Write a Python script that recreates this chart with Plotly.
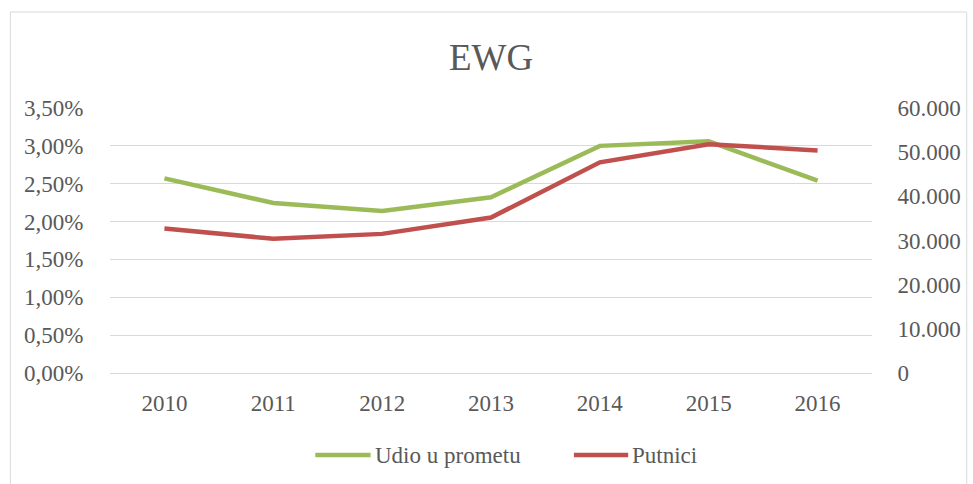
import plotly.graph_objects as go

years = ["2010", "2011", "2012", "2013", "2014", "2015", "2016"]
udio_u_prometu = [0.0257, 0.02245, 0.0214, 0.0232, 0.0300, 0.0306, 0.0254]
putnici = [32700, 30400, 31500, 35200, 47700, 51800, 50400]
series_names = ["Udio u prometu", "Putnici"]
series_colors = ["#9BBB59", "#C0504D"]

GRAY_TEXT = "#595959"
GRID = "#D9D9D9"
FONT = "Liberation Serif, Times New Roman, serif"

W, H = 973, 484
ml, mr, mt, mb = 110, 91, 108, 111
pw, ph = W - ml - mr, H - mt - mb


def px_x(x):
    return (x - ml) / pw


def px_y(y):
    return (H - mb - y) / ph


fig = go.Figure()
fig.add_trace(go.Scatter(
    x=years, y=udio_u_prometu, name=series_names[0], mode="lines",
    line=dict(color=series_colors[0], width=4.5), yaxis="y"
))
fig.add_trace(go.Scatter(
    x=years, y=putnici, name=series_names[1], mode="lines",
    line=dict(color=series_colors[1], width=4.5), yaxis="y2"
))

fig.update_layout(
    width=W, height=H,
    margin=dict(l=ml, r=mr, t=mt, b=mb),
    paper_bgcolor="white", plot_bgcolor="white",
    separators=",.",
    font=dict(family=FONT, size=23, color=GRAY_TEXT),
    title=dict(text="EWG", x=0.5, xref="paper", y=1 - 57 / H, yref="container",
               xanchor="center", yanchor="middle",
               font=dict(family=FONT, size=37, color=GRAY_TEXT)),
    xaxis=dict(type="category", range=[-0.5, 6.5], showgrid=False,
               showline=True, linecolor=GRID, linewidth=1,
               ticks="outside", ticklen=9, tickcolor="rgba(0,0,0,0)",
               tickfont=dict(size=23, color=GRAY_TEXT)),
    yaxis=dict(range=[0, 0.035], dtick=0.005, tickformat=".2%", showgrid=True,
               gridcolor=GRID, gridwidth=1, zeroline=False, showline=False,
               ticks="outside", ticklen=21, tickcolor="rgba(0,0,0,0)",
               tickfont=dict(size=23, color=GRAY_TEXT)),
    yaxis2=dict(range=[0, 60000], dtick=10000, tickformat=",d", overlaying="y",
                side="right", showgrid=False, zeroline=False, showline=False,
                ticks="outside", ticklen=20, tickcolor="rgba(0,0,0,0)",
                tickfont=dict(size=23, color=GRAY_TEXT)),
    showlegend=False,
)

# legend drawn by hand to get Excel-like long swatches
legend_y = 455
swatches = [(318, 374), (580, 635)]
for (x0, x1), name, color in zip(swatches, series_names, series_colors):
    fig.add_shape(type="line", xref="paper", yref="paper",
                  x0=px_x(x0), x1=px_x(x1), y0=px_y(legend_y), y1=px_y(legend_y),
                  line=dict(color=color, width=4.5))
    fig.add_annotation(xref="paper", yref="paper", x=px_x(x1 + 2), y=px_y(legend_y),
                       text=name, showarrow=False, xanchor="left", yanchor="middle",
                       font=dict(family=FONT, size=23, color=GRAY_TEXT))

# chart area border
fig.add_shape(type="rect", xref="paper", yref="paper",
              x0=px_x(9), x1=px_x(W + 5), y0=px_y(H + 5), y1=px_y(12),
              line=dict(color=GRID, width=1), fillcolor="rgba(0,0,0,0)",
              layer="below")

fig.write_html("out.html", config={"displayModeBar": False},
               post_script="document.body.style.margin='0px';")
